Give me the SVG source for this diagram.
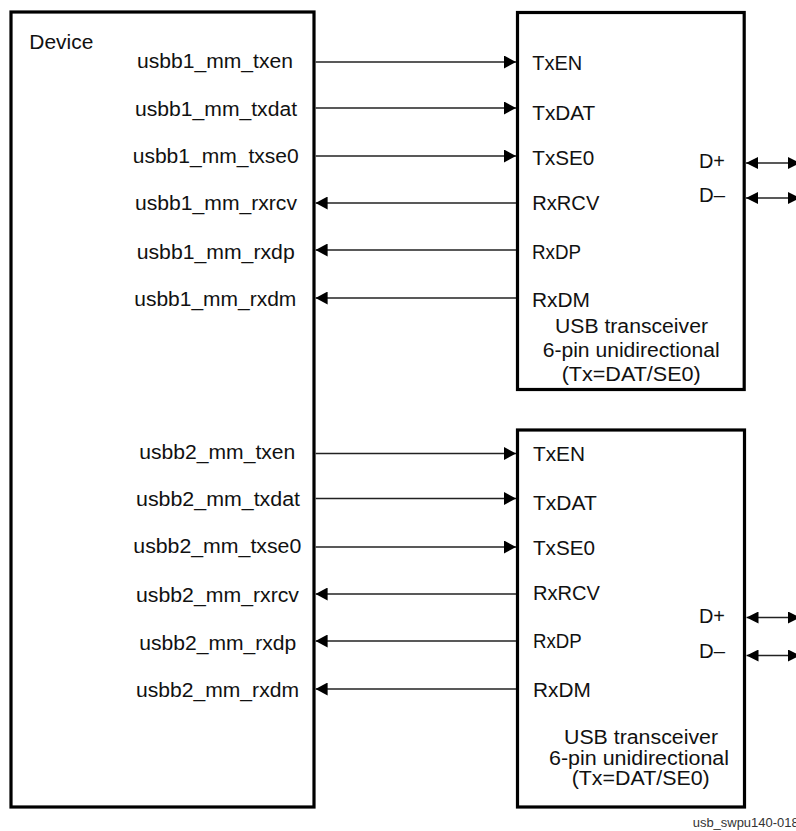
<svg xmlns="http://www.w3.org/2000/svg" width="796" height="831" viewBox="0 0 796 831">
<style>
.box{fill:#fff;stroke:#000;stroke-width:3.2}
.t{font-family:"Liberation Sans",Arial,sans-serif;font-size:20px;fill:#111}
.w{stroke:#222;stroke-width:1.3;fill:none}
.sig{marker-end:url(#ah)}
.bi{marker-start:url(#ah2);marker-end:url(#ah2)}
.foot{font-family:"Liberation Sans",Arial,sans-serif;font-size:12px;fill:#333}
</style>
<defs>
<marker id="ah" markerUnits="userSpaceOnUse" markerWidth="12" markerHeight="13" refX="12" refY="6.5" orient="auto-start-reverse"><path d="M0,0 L12,6.5 L0,13 z" fill="#000"/></marker>
<marker id="ah2" markerUnits="userSpaceOnUse" markerWidth="12" markerHeight="12" refX="12" refY="6" orient="auto-start-reverse"><path d="M0,0 L12,6 L0,12 z" fill="#000"/></marker>
</defs>
<rect width="796" height="831" fill="#fff"/>
<g id="device">
<rect class="box" x="11" y="12" width="303" height="795"/>
<text class="t" x="29.3" y="49" textLength="64" lengthAdjust="spacingAndGlyphs">Device</text>
<text class="t" x="137" y="68" textLength="156" lengthAdjust="spacingAndGlyphs">usbb1_mm_txen</text>
<text class="t" x="135" y="116" textLength="162" lengthAdjust="spacingAndGlyphs">usbb1_mm_txdat</text>
<text class="t" x="132.7" y="163" textLength="166" lengthAdjust="spacingAndGlyphs">usbb1_mm_txse0</text>
<text class="t" x="135" y="210" textLength="162" lengthAdjust="spacingAndGlyphs">usbb1_mm_rxrcv</text>
<text class="t" x="136.7" y="259" textLength="158" lengthAdjust="spacingAndGlyphs">usbb1_mm_rxdp</text>
<text class="t" x="134.3" y="306" textLength="162" lengthAdjust="spacingAndGlyphs">usbb1_mm_rxdm</text>
<text class="t" x="139.3" y="459" textLength="156" lengthAdjust="spacingAndGlyphs">usbb2_mm_txen</text>
<text class="t" x="136" y="506" textLength="164" lengthAdjust="spacingAndGlyphs">usbb2_mm_txdat</text>
<text class="t" x="133.3" y="553" textLength="168" lengthAdjust="spacingAndGlyphs">usbb2_mm_txse0</text>
<text class="t" x="136" y="602" textLength="163" lengthAdjust="spacingAndGlyphs">usbb2_mm_rxrcv</text>
<text class="t" x="139.3" y="650" textLength="157" lengthAdjust="spacingAndGlyphs">usbb2_mm_rxdp</text>
<text class="t" x="136" y="697" textLength="163" lengthAdjust="spacingAndGlyphs">usbb2_mm_rxdm</text>
</g>
<g id="transceiver1">
<rect class="box" x="517.5" y="12.5" width="226.7" height="377"/>
<text class="t" x="532.3" y="70" textLength="50" lengthAdjust="spacingAndGlyphs">TxEN</text>
<text class="t" x="532.3" y="120" textLength="63" lengthAdjust="spacingAndGlyphs">TxDAT</text>
<text class="t" x="532.3" y="165" textLength="62" lengthAdjust="spacingAndGlyphs">TxSE0</text>
<text class="t" x="532.3" y="210" textLength="67" lengthAdjust="spacingAndGlyphs">RxRCV</text>
<text class="t" x="532" y="259" textLength="49" lengthAdjust="spacingAndGlyphs">RxDP</text>
<text class="t" x="532" y="306.5" textLength="58" lengthAdjust="spacingAndGlyphs">RxDM</text>
<text class="t" x="699" y="168" textLength="26" lengthAdjust="spacingAndGlyphs">D+</text>
<text class="t" x="699" y="202" textLength="26" lengthAdjust="spacingAndGlyphs">D–</text>
<text class="t" x="555" y="332.7" textLength="153" lengthAdjust="spacingAndGlyphs">USB transceiver</text>
<text class="t" x="542.7" y="357.3" textLength="177" lengthAdjust="spacingAndGlyphs">6-pin unidirectional</text>
<text class="t" x="561.7" y="380.5" textLength="139" lengthAdjust="spacingAndGlyphs">(Tx=DAT/SE0)</text>
</g>
<g id="transceiver2">
<rect class="box" x="517.5" y="430" width="227" height="377"/>
<text class="t" x="533" y="460.7" textLength="52" lengthAdjust="spacingAndGlyphs">TxEN</text>
<text class="t" x="533" y="510" textLength="63.7" lengthAdjust="spacingAndGlyphs">TxDAT</text>
<text class="t" x="533" y="555" textLength="62" lengthAdjust="spacingAndGlyphs">TxSE0</text>
<text class="t" x="533" y="600" textLength="67" lengthAdjust="spacingAndGlyphs">RxRCV</text>
<text class="t" x="533" y="648" textLength="48.7" lengthAdjust="spacingAndGlyphs">RxDP</text>
<text class="t" x="533" y="696.7" textLength="57.7" lengthAdjust="spacingAndGlyphs">RxDM</text>
<text class="t" x="699" y="623" textLength="26" lengthAdjust="spacingAndGlyphs">D+</text>
<text class="t" x="699" y="658" textLength="26" lengthAdjust="spacingAndGlyphs">D–</text>
<text class="t" x="564" y="744" textLength="154" lengthAdjust="spacingAndGlyphs">USB transceiver</text>
<text class="t" x="549" y="765" textLength="180" lengthAdjust="spacingAndGlyphs">6-pin unidirectional</text>
<text class="t" x="571.7" y="785" textLength="138" lengthAdjust="spacingAndGlyphs">(Tx=DAT/SE0)</text>
</g>
<g id="connectors">
<line class="w sig" x1="315.6" y1="62" x2="516" y2="62"/>
<line class="w sig" x1="315.6" y1="108" x2="516" y2="108"/>
<line class="w sig" x1="315.6" y1="156" x2="516" y2="156"/>
<line class="w sig" x1="516" y1="203" x2="315.6" y2="203"/>
<line class="w sig" x1="516" y1="250" x2="315.6" y2="250"/>
<line class="w sig" x1="516" y1="298" x2="315.6" y2="298"/>
<line class="w sig" x1="315.6" y1="453.5" x2="516" y2="453.5"/>
<line class="w sig" x1="315.6" y1="498.5" x2="516" y2="498.5"/>
<line class="w sig" x1="315.6" y1="547" x2="516" y2="547"/>
<line class="w sig" x1="516" y1="594" x2="315.6" y2="594"/>
<line class="w sig" x1="516" y1="641" x2="315.6" y2="641"/>
<line class="w sig" x1="516" y1="689" x2="315.6" y2="689"/>
<line class="w bi" x1="746" y1="163" x2="800" y2="163"/>
<line class="w bi" x1="746" y1="198" x2="800" y2="198"/>
<line class="w bi" x1="746.5" y1="617.5" x2="800" y2="617.5"/>
<line class="w bi" x1="746.5" y1="655.5" x2="800" y2="655.5"/>
</g>
<text class="foot" x="692.7" y="827" textLength="106" lengthAdjust="spacingAndGlyphs">usb_swpu140-018</text>
</svg>
